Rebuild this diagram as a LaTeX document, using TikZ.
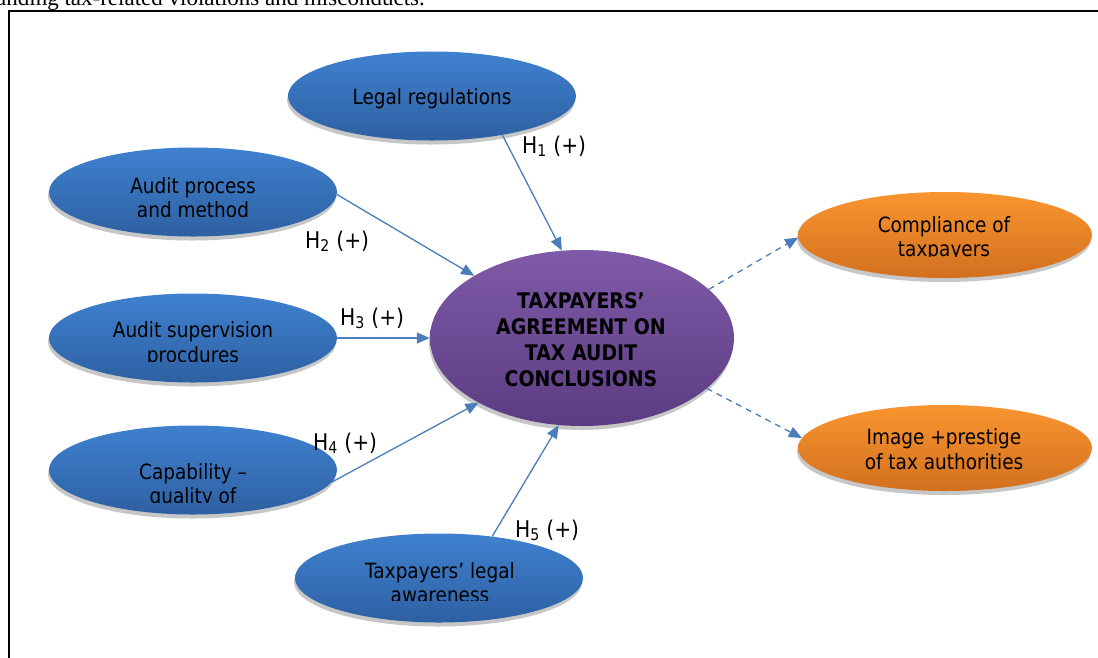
\documentclass[tikz,border=0pt]{standalone}
\usepackage{fontspec}
\setmainfont{Liberation Serif}
\setsansfont{DejaVu Sans}[FakeStretch=0.88]
\usetikzlibrary{shapes.geometric,shadows,arrows.meta}
\definecolor{blueT}{HTML}{3F81CF}
\definecolor{blueB}{HTML}{2E60A2}
\definecolor{purpT}{HTML}{7F5AA8}
\definecolor{purpB}{HTML}{5B3C82}
\definecolor{orT}{HTML}{F9952F}
\definecolor{orB}{HTML}{D2701F}
\definecolor{arrowblue}{HTML}{4A7EBB}
\tikzset{
  ellbase/.style={ellipse, inner sep=0pt, draw=none,
    drop shadow={shadow xshift=-1pt, shadow yshift=-4pt, fill=black!22, opacity=1}},
  blueell/.style={ellbase, minimum width=288pt, minimum height=89pt, top color=blueT, bottom color=blueB},
  orell/.style={ellbase, minimum width=294pt, minimum height=86pt, top color=orT, bottom color=orB},
  purpell/.style={ellbase, minimum width=304pt, minimum height=176pt, top color=purpT, bottom color=purpB},
  etext/.style={font=\sffamily\fontsize{21}{24}\selectfont, anchor=base, inner sep=0pt, text=black},
  ctext/.style={font=\sffamily\bfseries\fontsize{21.5}{26}\selectfont, anchor=base, inner sep=0pt, text=black},
  hlabel/.style={font=\sffamily\fontsize{23}{26}\selectfont, anchor=base west, inner sep=0pt, text=black},
  link/.style={draw=arrowblue, line width=1.3pt, -{Triangle[length=13pt,width=11pt]}},
  dlink/.style={link, dash pattern=on 6pt off 5pt},
}
\begin{document}
\begin{tikzpicture}[x=1pt,y=-1pt]
\useasboundingbox (0,0) rectangle (1098,657);
\clip (0,0) rectangle (1098,657);
\fill[white] (0,0) rectangle (1098,657);

% cut-off line of text above the frame
\node[font=\rmfamily\fontsize{23}{26}\selectfont, anchor=base west, inner sep=0pt] (toptext) at (-4,5) {anding tax-related violations and misconducts.};

% frame
\draw[line width=2.2pt] (9,700) -- (9,11) -- (1120,11);

% ellipses
\node[blueell] (legal) at (432,96) {};
\node[blueell] (process) at (193,192) {};
\node[blueell] (superv) at (193,338) {};
\node[blueell] (capab) at (193,470) {};
\node[blueell] (aware) at (439,578) {};
\node[purpell] (center) at (582,338) {};
\node[orell] (compl) at (945,235) {};
\node[orell] (image) at (945,448) {};

% texts
\node[etext] (legalt) at (432,104) {Legal regulations};

\node[etext] (processt1) at (193,193) {Audit process};
\begin{scope}\clip (40,180) rectangle (340,216);
\node[etext] (processt2) at (193,217) {and method};
\end{scope}

\node[etext] (supervt1) at (193,337) {Audit supervision};
\begin{scope}\clip (40,320) rectangle (340,361);
\node[etext] (supervt2) at (193,362) {procdures};
\end{scope}

\node[etext] (capabt1) at (193,479) {Capability --};
\begin{scope}\clip (40,460) rectangle (340,502);
\node[etext] (capabt2) at (193,503) {quality of};
\end{scope}

\node[etext] (awaret1) at (440,578) {Taxpayers’ legal};
\begin{scope}\clip (290,560) rectangle (590,600);
\node[etext] (awaret2) at (440,602) {awareness};
\end{scope}

\node[etext] (complt1) at (944,232) {Compliance of};
\begin{scope}\clip (790,215) rectangle (1098,256.5);
\node[etext] (complt2) at (944,256) {taxpayers};
\end{scope}

\node[etext] (imaget1) at (944,444) {Image +prestige};
\node[etext] (imaget2) at (944,469) {of tax authorities};

\node[ctext] (ct1) at (581,308) {TAXPAYERS’};
\node[ctext] (ct2) at (581,334) {AGREEMENT ON};
\node[ctext] (ct3) at (581,360) {TAX AUDIT};
\node[ctext] (ct4) at (581,386) {CONCLUSIONS};

% connectors
\draw[link] (legal.-29) -- (center.103);
\draw[link] (process.-1) -- (center.150);
\draw[link] (superv.east) -- (center.west);
\draw[link] (capab.-5) -- (center.-148);
\draw[link] (aware.38) -- (center.-105);
\draw[dlink] (center.21) -- (compl.181);
\draw[dlink] (center.-22) -- (image.176);

% labels
\node[hlabel] (h1) at (522,153) {H\textsubscript{1} (+)};
\node[hlabel] (h2) at (305,248) {H\textsubscript{2} (+)};
\node[hlabel] (h3) at (340,325) {H\textsubscript{3} (+)};
\node[hlabel] (h4) at (313,450) {H\textsubscript{4} (+)};
\node[hlabel] (h5) at (515,537) {H\textsubscript{5} (+)};
\end{tikzpicture}
\end{document}
